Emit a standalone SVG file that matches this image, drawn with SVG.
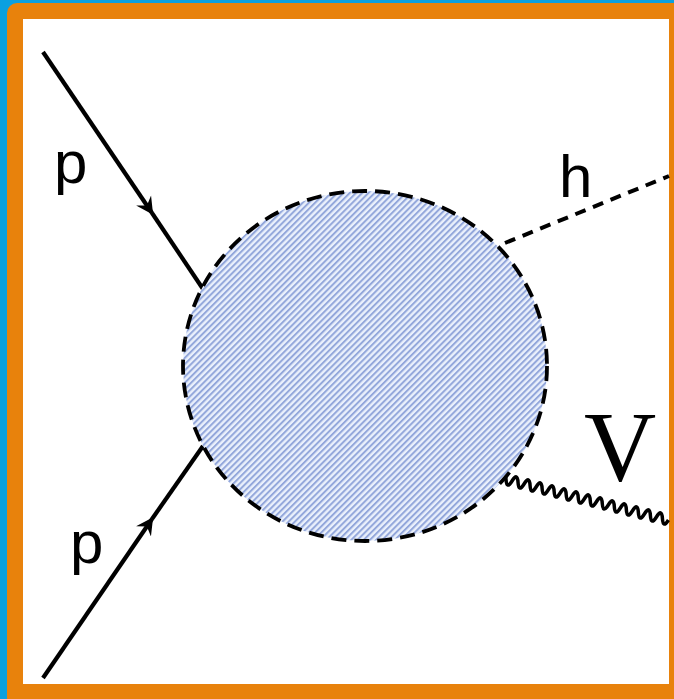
<svg xmlns="http://www.w3.org/2000/svg" width="674" height="699" viewBox="0 0 674 699">
<defs>
<pattern id="hatch" width="4.4" height="4.4" patternUnits="userSpaceOnUse" patternTransform="rotate(-45)">
<rect width="4.4" height="4.4" fill="#eaf0fc"/>
<rect width="4.4" height="2" fill="#93a7db"/>
</pattern>
<marker id="arr" viewBox="0 0 24 24" refX="15" refY="12" markerWidth="24" markerHeight="24" markerUnits="userSpaceOnUse" orient="auto">
<path d="M0,3 L17,12 L0,21 L6,12 Z" fill="#000"/>
</marker>
<style>
.fermion{stroke:#000;stroke-width:4.2;fill:none}
.lbl{font-family:"Liberation Sans",Arial,sans-serif;font-size:60px;fill:#000}
</style>
</defs>
<rect x="0" y="0" width="674" height="699" fill="#0aa0e0"/>
<rect x="7" y="3" width="680" height="710" rx="10" fill="#e8820c"/>
<rect x="23" y="19" width="646" height="665" fill="#fff"/>
<g id="connectors">
<path class="fermion" d="M43,52 L152,213" marker-end="url(#arr)"/>
<path class="fermion" d="M152,213 L203,289"/>
<path class="fermion" d="M43,678 L152,519" marker-end="url(#arr)"/>
<path class="fermion" d="M152,519 L203,446"/>
<path d="M505,243 L669,176" stroke="#000" stroke-width="4" stroke-dasharray="11,8" fill="none"/>
<g transform="translate(500,478) rotate(14)">
<path d="M0,0 q3.1,-10 6.2,0 t6.2,0 t6.2,0 t6.2,0 t6.2,0 t6.2,0 t6.2,0 t6.2,0 t6.2,0 t6.2,0 t6.2,0 t6.2,0 t6.2,0 t6.2,0 t6.2,0 t6.2,0 t6.2,0 t6.2,0 t6.2,0 t6.2,0 t6.2,0 t6.2,0 t6.2,0 t6.2,0 t6.2,0 t6.2,0 t6.2,0 t6.2,0" stroke="#000" stroke-width="3.5" fill="none"/>
</g>
</g>
<g id="blob">
<ellipse cx="365" cy="366" rx="182" ry="175" fill="url(#hatch)" stroke="#000" stroke-width="3.8" stroke-dasharray="15,8"/>
</g>
<g id="label-p1"><text class="lbl" x="54" y="183">p</text></g>
<g id="label-p2"><text class="lbl" x="70" y="563">p</text></g>
<g id="label-h"><text class="lbl" x="559" y="197">h</text></g>
<g id="label-V"><text x="584" y="480" font-family="'Liberation Serif','Times New Roman',serif" font-size="100" fill="#000">V</text></g>
</svg>
